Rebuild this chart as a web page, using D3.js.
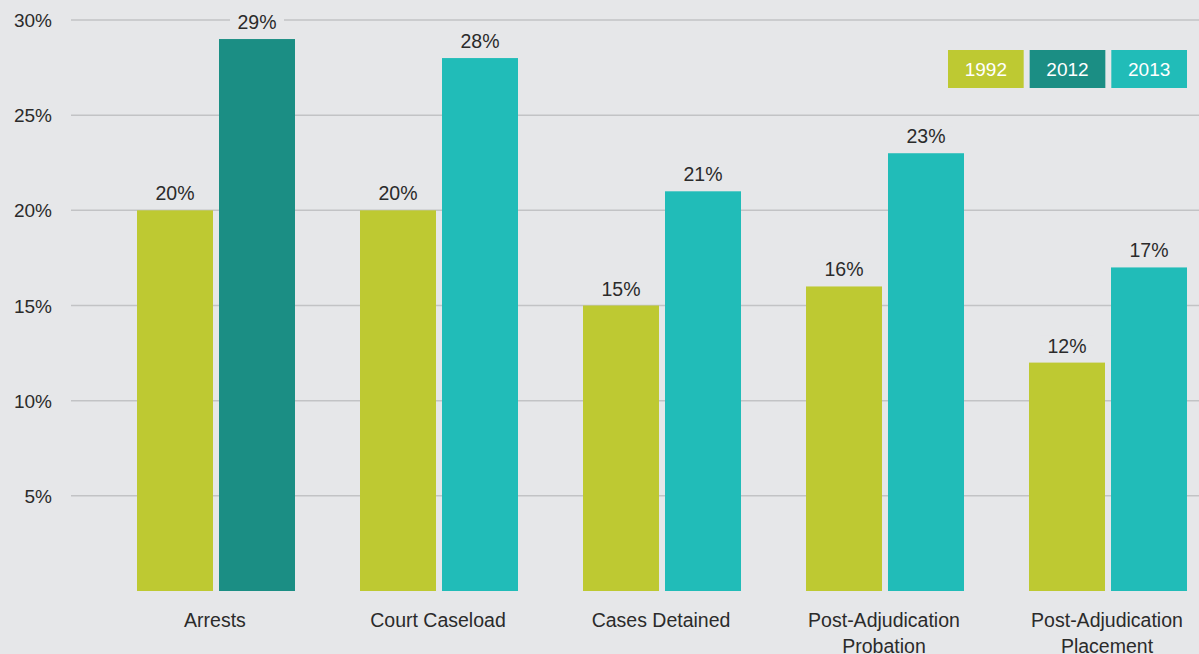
<!DOCTYPE html>
<html>
<head>
<meta charset="utf-8">
<script src="https://cdn.jsdelivr.net/npm/d3@7"></script>
<style>
  html, body { margin: 0; padding: 0; background: #e6e7e9; }
  svg { display: block; font-family: "Liberation Sans", Arial, Helvetica, sans-serif; }
</style>
</head>
<body>
<svg id="chart" width="1199" height="654"></svg>
<script>
const categories = [["Arrests"], ["Court Caseload"], ["Cases Detained"], ["Post-Adjudication", "Probation"], ["Post-Adjudication", "Placement"]];
const seriesFirst = [20, 20, 15, 16, 12];
const seriesSecond = [29, 28, 21, 23, 17];
const secondYear = ["2012", "2013", "2013", "2013", "2013"];
const legendYears = ["1992", "2012", "2013"];
const yTicks = [5, 10, 15, 20, 25, 30];

const colors = { "1992": "#bec932", "2012": "#1b8e84", "2013": "#21bcb8" };
const bg = "#e6e7e9";
const txt = "#2b2b2b";
const fs = 19.5;

const svg = d3.select("#chart");
svg.append("rect").attr("width", 1199).attr("height", 654).attr("fill", bg);

const y = d3.scaleLinear().domain([0, 30]).range([591, 20]);
const x0 = d3.scaleBand().domain(d3.range(categories.length)).range([104.5, 1219.5])
  .paddingInner(65 / 223).paddingOuter(32.5 / 223);
const x1 = d3.scaleBand().domain([0, 1]).range([0, x0.bandwidth()]).paddingInner(6 / 82).paddingOuter(0);

// gridlines
const grid = svg.append("g");
grid.selectAll("line").data(yTicks).join("line")
  .attr("x1", 71).attr("x2", 1199)
  .attr("y1", d => y(d)).attr("y2", d => y(d))
  .attr("stroke", "#c2c3c5").attr("stroke-width", 1.5);

// y axis labels
const yAxis = d3.axisLeft(y).tickValues(yTicks).tickFormat(d => d + "%").tickSize(0).tickPadding(0);
const ya = svg.append("g").attr("transform", "translate(52,0)").call(yAxis);
ya.select(".domain").remove();
ya.selectAll("text").attr("font-size", 19).attr("fill", txt)
  .attr("font-family", "\"Liberation Sans\", Arial, sans-serif").attr("dy", "0.35em");

// bars
const data = categories.map((c, i) => ({ i, vals: [
  { k: 0, v: seriesFirst[i], year: "1992" },
  { k: 1, v: seriesSecond[i], year: secondYear[i] }
]}));

const groups = svg.selectAll(".grp").data(data).join("g")
  .attr("transform", d => `translate(${x0(d.i)},0)`);

groups.selectAll("rect.bar").data(d => d.vals).join("rect")
  .attr("class", "bar")
  .attr("x", d => x1(d.k)).attr("width", x1.bandwidth())
  .attr("y", d => y(d.v)).attr("height", d => y(0) - y(d.v))
  .attr("fill", d => colors[d.year]);

// value labels with bg masking
const lbl = groups.selectAll("g.lbl").data(d => d.vals).join("g").attr("class", "lbl");
lbl.append("rect")
  .attr("x", d => x1(d.k) + x1.bandwidth() / 2 - 27)
  .attr("y", d => y(d.v) - 27).attr("width", 54).attr("height", 19)
  .attr("fill", bg);
lbl.append("text")
  .attr("x", d => x1(d.k) + x1.bandwidth() / 2)
  .attr("y", d => y(d.v) - 10)
  .attr("text-anchor", "middle").attr("font-size", fs).attr("fill", txt)
  .text(d => d.v + "%");

// category labels
const cat = svg.selectAll(".cat").data(categories).join("text")
  .attr("class", "cat")
  .attr("x", (d, i) => x0(i) + x0.bandwidth() / 2 - 1)
  .attr("y", 627)
  .attr("text-anchor", "middle").attr("font-size", fs).attr("fill", txt);
cat.selectAll("tspan").data(d => d).join("tspan")
  .attr("x", function() { return d3.select(this.parentNode).attr("x"); })
  .attr("dy", (d, j) => j === 0 ? 0 : 26)
  .text(d => d);

// legend
const legend = svg.append("g");
const lx = d3.scaleBand().domain(legendYears).range([948, 1187]).paddingInner(6 / 82);
const li = legend.selectAll("g").data(legendYears).join("g");
li.append("rect").attr("x", d => lx(d)).attr("y", 50).attr("width", lx.bandwidth()).attr("height", 38)
  .attr("fill", d => colors[d]);
li.append("text").attr("x", d => lx(d) + lx.bandwidth() / 2).attr("y", 75.5)
  .attr("text-anchor", "middle").attr("font-size", 19).attr("fill", "#ffffff")
  .text(d => d);
</script>
</body>
</html>
